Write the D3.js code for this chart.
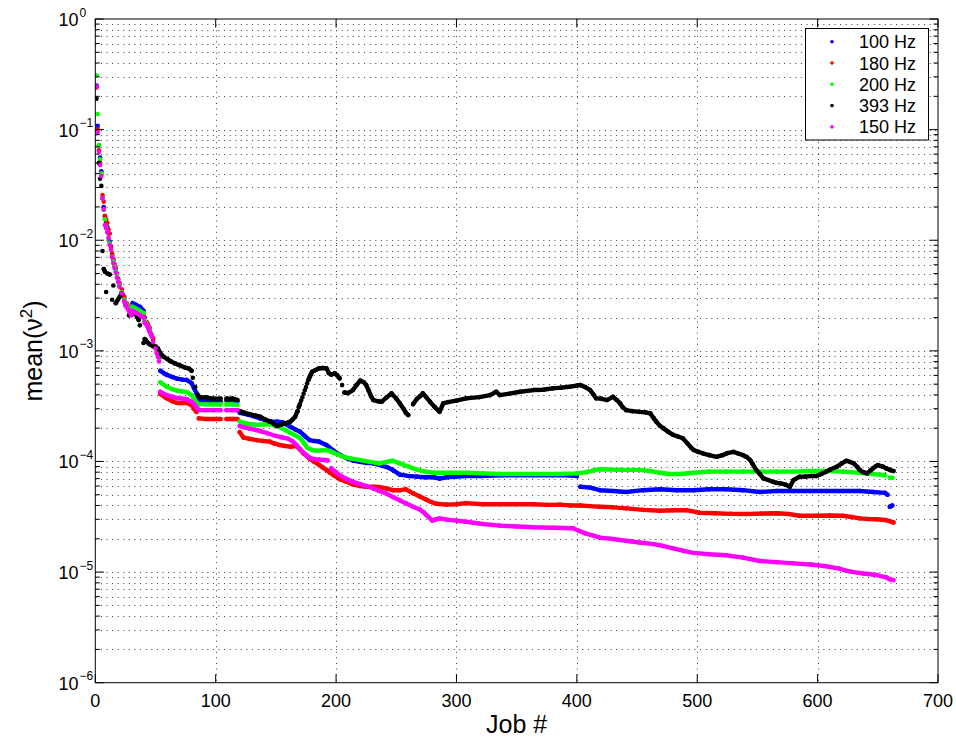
<!DOCTYPE html>
<html>
<head>
<meta charset="utf-8">
<script src="https://cdn.jsdelivr.net/npm/d3@7"></script>
<style>
  html, body { margin: 0; padding: 0; background: #fff; }
  svg { display: block; }
  text { font-family: "Liberation Sans", Arial, Helvetica, sans-serif; fill: #000; }
</style>
</head>
<body>
<svg id="chart" width="956" height="743"></svg>
<script>
// ---- data: [job, mean value]; null marks a break in the record ----
const series100 = [[1,0.25],[2,0.108],[3,0.072],[4,0.056],[5,0.042],[6,0.0242],[7,0.020],[8,0.0165],[9,0.0145],[10,0.0132],[11,0.0115],[12,0.0098],[13,0.0085],[14,0.0073],[15,0.0066],[16,0.0059],[17,0.0054],[18,0.0049],[19,0.0044],[20,0.0040],[22,0.0034],[24,0.0030],[26,0.0026],[28,0.0024],[30,0.0023],[31,0.0027],[34,0.0026],[37,0.0025],[40,0.0023],[41,0.0020],[43,0.00175],[45,0.0016],[47,0.0014],[48,0.00125],[50,0.0011],[51,0.00102],[52,0.00093],[53,0.00085],null,
  [54,6.6e-4],[59,6.1e-4],[64,5.8e-4],[68,5.6e-4],[72,5.5e-4],[76,5.45e-4],[80,5.1e-4],[82,4.6e-4],[84,4.15e-4],[86,3.7e-4],[87,3.55e-4],[92,3.55e-4],[98,3.5e-4],[104,3.5e-4],null,
  [109,3.55e-4],[114,3.55e-4],[118,3.5e-4],[120,2.75e-4],[124,2.7e-4],[128,2.63e-4],[132,2.55e-4],[137,2.45e-4],[142,2.35e-4],[146,2.3e-4],[151,2.29e-4],[156,2.25e-4],[159,2.15e-4],[162,2.06e-4],[166,1.95e-4],[170,1.86e-4],[174,1.7e-4],[178,1.56e-4],[182,1.53e-4],[186,1.51e-4],[192,1.41e-4],[198,1.25e-4],[203,1.15e-4],[209,1.07e-4],[214,1.02e-4],[220,9.9e-5],[225,9.7e-5],[231,9.6e-5],[236,9.3e-5],[242,8.9e-5],[247,8.4e-5],[253,7.6e-5],[260,7.4e-5],[267,7.3e-5],[274,7.2e-5],[281,7.2e-5],[286,7.0e-5],[292,7.2e-5],[300,7.3e-5],[308,7.4e-5],[320,7.4e-5],[336,7.5e-5],[350,7.5e-5],[364,7.5e-5],[380,7.5e-5],[392,7.5e-5],[400,7.4e-5],null,
  [403,5.9e-5],[411,5.8e-5],[419,5.5e-5],[430,5.4e-5],[441,5.3e-5],[455,5.5e-5],[469,5.6e-5],[483,5.5e-5],[497,5.5e-5],[510,5.6e-5],[524,5.6e-5],[538,5.5e-5],[552,5.3e-5],[566,5.4e-5],[580,5.4e-5],[594,5.4e-5],[607,5.4e-5],[621,5.4e-5],[635,5.4e-5],[646,5.3e-5],[656,5.2e-5],[658,5.0e-5],null,
  [660,3.9e-5],[661,3.95e-5],[662,4.0e-5]];

const series180 = [[1,0.24],[2,0.10],[3,0.065],[4,0.05],[5,0.04],[6,0.0256],[7,0.0223],[8,0.0166],[9,0.0155],[10,0.0144],[11,0.0125],[12,0.0115],[13,0.0088],[14,0.0076],[15,0.0068],[16,0.0061],[17,0.0056],[18,0.0050],[19,0.0045],[20,0.0041],[22,0.0036],[24,0.0031],[26,0.0027],[28,0.0025],[30,0.0023],[31,0.0024],[34,0.0023],[37,0.0022],[40,0.0021],[41,0.0019],[43,0.0018],[45,0.0016],[47,0.0014],[48,0.0013],[50,0.0011],[51,0.0010],[52,0.00092],[53,0.00085],null,
  [54,4.07e-4],[59,3.74e-4],[64,3.5e-4],[68,3.38e-4],[72,3.38e-4],[76,3.38e-4],[80,3.23e-4],[82,3.0e-4],[84,2.8e-4],[86,2.45e-4],[92,2.42e-4],[98,2.42e-4],[104,2.42e-4],null,
  [109,2.42e-4],[114,2.42e-4],[118,2.42e-4],[120,1.84e-4],[123,1.65e-4],[128,1.6e-4],[134,1.56e-4],[140,1.53e-4],[145,1.51e-4],[149,1.45e-4],[153,1.41e-4],[158,1.38e-4],[162,1.36e-4],[167,1.38e-4],[170,1.28e-4],[173,1.18e-4],[178,1.06e-4],[182,9.9e-5],[186,9.3e-5],[189,8.8e-5],[192,8.4e-5],[195,7.9e-5],[198,7.5e-5],[203,6.9e-5],[208,6.6e-5],[214,6.2e-5],[220,6.0e-5],[225,5.9e-5],[231,5.9e-5],[236,5.87e-5],[242,5.7e-5],[247,5.5e-5],[253,5.5e-5],[258,5.6e-5],[264,5.15e-5],[270,4.8e-5],[275,4.5e-5],[279,4.3e-5],[283,4.15e-5],[292,4.07e-5],[300,4.1e-5],[308,4.2e-5],[322,4.1e-5],[336,4.1e-5],[350,4.1e-5],[364,4.1e-5],[375,4.05e-5],[386,4.07e-5],[395,4.0e-5],[403,4.0e-5],[411,3.95e-5],[419,3.9e-5],[430,3.85e-5],[441,3.77e-5],[455,3.65e-5],[469,3.58e-5],[480,3.62e-5],[491,3.63e-5],[502,3.44e-5],[515,3.4e-5],[528,3.36e-5],[541,3.35e-5],[553,3.38e-5],[566,3.4e-5],[576,3.35e-5],[585,3.23e-5],[600,3.23e-5],[610,3.25e-5],[621,3.23e-5],[628,3.15e-5],[635,3.06e-5],[642,3.02e-5],[649,3.0e-5],[656,2.96e-5],[663,2.81e-5]];

const series200 = [[1,0.31],[2,0.138],[3,0.072],[4,0.054],[5,0.040],[6,0.024],[7,0.0188],[8,0.0155],[9,0.0132],[10,0.0118],[11,0.0104],[12,0.0094],[13,0.0082],[14,0.0071],[15,0.0064],[16,0.0058],[17,0.0053],[18,0.0048],[19,0.0043],[20,0.0039],[22,0.0034],[24,0.0029],[26,0.0026],[28,0.0024],[30,0.0022],[31,0.0025],[34,0.0024],[37,0.0023],[40,0.0022],[41,0.0019],[43,0.0017],[45,0.00155],[47,0.0014],[48,0.0012],[50,0.00105],[51,0.00098],[52,0.0009],[53,0.00082],null,
  [54,5.2e-4],[59,4.76e-4],[64,4.5e-4],[68,4.37e-4],[72,4.3e-4],[76,4.24e-4],[80,3.98e-4],[82,3.67e-4],[84,3.41e-4],[86,3.3e-4],[92,3.28e-4],[98,3.28e-4],[104,3.28e-4],null,
  [109,3.28e-4],[114,3.28e-4],[118,3.25e-4],[120,2.3e-4],[124,2.22e-4],[128,2.18e-4],[133,2.15e-4],[137,2.15e-4],[141,2.17e-4],[145,2.18e-4],[149,2.12e-4],[153,2.05e-4],[158,1.92e-4],[162,1.81e-4],[166,1.72e-4],[170,1.63e-4],[173,1.48e-4],[176,1.33e-4],[180,1.27e-4],[184,1.25e-4],[188,1.26e-4],[192,1.27e-4],[195,1.24e-4],[198,1.2e-4],[202,1.15e-4],[206,1.1e-4],[213,1.06e-4],[220,1.03e-4],[228,9.9e-5],[236,9.6e-5],[242,9.9e-5],[247,1.015e-4],[253,9.6e-5],[260,9.0e-5],[267,8.45e-5],[274,8.1e-5],[281,7.9e-5],[295,7.9e-5],[308,7.9e-5],[322,7.8e-5],[336,7.7e-5],[350,7.7e-5],[364,7.7e-5],[383,7.7e-5],[400,7.8e-5],[408,8.0e-5],[414,8.3e-5],[419,8.5e-5],[436,8.4e-5],[452,8.4e-5],[461,8.2e-5],[469,7.9e-5],[477,7.7e-5],[486,7.7e-5],[497,7.9e-5],[510,8.1e-5],[524,8.1e-5],[538,8.1e-5],[552,8.1e-5],[566,8.1e-5],[580,8.1e-5],[594,8.2e-5],[607,8.2e-5],[621,8.1e-5],[635,7.9e-5],[646,7.7e-5],[656,7.5e-5],null,
  [660,7.1e-5],[662,7.1e-5]];

const series393 = [[1,0.19],[3,0.050],[4,0.036],[5,0.031],[6,0.008],[7,0.0055],[8,0.0052],[9,0.0034],[10,0.005],[12,0.0049],[14,0.0029],[15,0.0039],[17,0.0027],[22,0.0033],[25,0.0026],[28,0.0021],[33,0.0022],[36,0.0019],[37,0.0017],[40,0.00118],[41,0.00128],[42,0.00125],[43,0.0012],[45,0.00115],[48,0.0011],[50,0.00108],[52,0.00105],[54,0.00095],[57,0.00088],[60,0.00084],[63,0.0008],[66,0.00077],[70,0.00074],[74,0.00071],[78,0.00069],[80,0.00066],[81,0.00057],[83,0.00047],[85,0.0004],[87,3.8e-4],[92,3.8e-4],[98,3.7e-4],[104,3.7e-4],null,
  [109,3.7e-4],[114,3.7e-4],[118,3.6e-4],[120,2.86e-4],[124,2.75e-4],[128,2.68e-4],[133,2.6e-4],[137,2.54e-4],[141,2.4e-4],[145,2.29e-4],[148,2.2e-4],[151,2.09e-4],[154,2.15e-4],[157,2.2e-4],[160,2.25e-4],[162,2.29e-4],[164,2.4e-4],[166,2.54e-4],[168,2.85e-4],[169,3.1e-4],[170,3.3e-4],[171,3.55e-4],[172,3.8e-4],[173,4.1e-4],[174,4.4e-4],[175,4.7e-4],[176,5.1e-4],[177,5.45e-4],[178,5.8e-4],[179,6.1e-4],[180,6.47e-4],[183,6.7e-4],[186,6.95e-4],[189,7.0e-4],[192,6.95e-4],[194,6.3e-4],[196,6.1e-4],[199,6.26e-4],[201,6.0e-4],[203,5.64e-4],[205,4.9e-4],[207,4.2e-4],[210,4.15e-4],[214,4.42e-4],[217,4.9e-4],[220,5.39e-4],[223,5.2e-4],[225,4.91e-4],[227,4.4e-4],[229,3.9e-4],[231,3.59e-4],[235,3.5e-4],[238,3.47e-4],[242,3.8e-4],[246,4.13e-4],[250,3.7e-4],[253,3.35e-4],[256,3.0e-4],[258,2.75e-4],[260,2.63e-4],null,
  [264,3.3e-4],[267,3.67e-4],[270,3.9e-4],[272,4.13e-4],[275,3.8e-4],[278,3.47e-4],[282,3.1e-4],[286,2.81e-4],[289,3.35e-4],[293,3.44e-4],[300,3.55e-4],[308,3.72e-4],[319,3.82e-4],[328,3.98e-4],[333,4.27e-4],[336,3.98e-4],[344,4.1e-4],[353,4.27e-4],[364,4.42e-4],[372,4.45e-4],[380,4.58e-4],[387,4.65e-4],[394,4.74e-4],[400,4.85e-4],[403,4.91e-4],[407,4.7e-4],[411,4.42e-4],[414,4.0e-4],[416,3.72e-4],[420,3.7e-4],[425,3.59e-4],[430,3.84e-4],[433,3.6e-4],[436,3.35e-4],[438,3.1e-4],[441,2.91e-4],[446,2.85e-4],[452,2.81e-4],[457,2.78e-4],[461,2.72e-4],[464,2.45e-4],[466,2.29e-4],[469,2.1e-4],[472,1.99e-4],[476,1.85e-4],[480,1.74e-4],[484,1.68e-4],[488,1.62e-4],[492,1.45e-4],[495,1.33e-4],[497,1.27e-4],[501,1.22e-4],[505,1.18e-4],[510,1.14e-4],[516,1.1e-4],[521,1.14e-4],[525,1.19e-4],[530,1.22e-4],[534,1.18e-4],[538,1.14e-4],[541,1.1e-4],[544,1.03e-4],[546,9.5e-5],[549,8.36e-5],[552,7.7e-5],[555,7.03e-5],[559,6.8e-5],[563,6.55e-5],[566,6.4e-5],[569,6.34e-5],[573,6.2e-5],[577,5.9e-5],[580,6.79e-5],[585,7.27e-5],[590,7.3e-5],[595,7.4e-5],[599,7.38e-5],[603,7.7e-5],[607,8.07e-5],[611,8.5e-5],[616,8.96e-5],[620,9.6e-5],[624,1.015e-4],[627,9.9e-5],[630,9.61e-5],[633,8.9e-5],[635,8.36e-5],[638,8.0e-5],[641,7.8e-5],[644,8.3e-5],[646,8.66e-5],[648,9.0e-5],[650,9.28e-5],[654,9.0e-5],[657,8.66e-5],[660,8.4e-5],[663,8.19e-5]];

const series150 = [[1,0.245],[2,0.095],[3,0.063],[4,0.048],[5,0.038],[6,0.0239],[7,0.019],[8,0.0137],[9,0.0128],[10,0.0118],[11,0.0105],[12,0.0091],[13,0.0082],[14,0.007],[15,0.0062],[16,0.0056],[17,0.0051],[18,0.0046],[19,0.0042],[20,0.0038],[22,0.0033],[24,0.0028],[26,0.0025],[28,0.0023],[30,0.0021],[31,0.0023],[34,0.0022],[37,0.0021],[40,0.0020],[41,0.0018],[43,0.0017],[45,0.0015],[47,0.00135],[48,0.0012],[50,0.00105],[51,0.00095],[52,0.00088],[53,0.0008],null,
  [54,4.27e-4],[59,3.98e-4],[64,3.85e-4],[68,3.74e-4],[72,3.7e-4],[76,3.67e-4],[80,3.45e-4],[82,3.3e-4],[84,3.1e-4],[86,2.92e-4],[92,2.91e-4],[98,2.91e-4],[104,2.91e-4],null,
  [109,2.91e-4],[114,2.91e-4],[118,2.9e-4],[120,2.09e-4],[124,2.03e-4],[128,1.98e-4],[133,1.93e-4],[137,1.88e-4],[143,1.8e-4],[150,1.7e-4],[155,1.65e-4],[160,1.61e-4],[164,1.52e-4],[167,1.41e-4],[170,1.3e-4],[172,1.23e-4],[175,1.15e-4],[178,1.08e-4],[182,1.05e-4],[186,1.04e-4],[190,1.03e-4],[193,1.02e-4],null,
  [196,8.66e-5],[200,8.0e-5],[203,7.53e-5],[208,7.0e-5],[214,6.55e-5],[220,6.25e-5],[225,6.0e-5],[231,5.7e-5],[236,5.4e-5],[242,5.1e-5],[248,4.72e-5],[253,4.45e-5],[258,4.18e-5],[264,3.9e-5],[269,3.71e-5],[273,3.45e-5],[276,3.21e-5],[280,2.92e-5],[283,3.0e-5],[286,3.06e-5],[292,2.98e-5],[300,2.92e-5],[308,2.85e-5],[322,2.72e-5],[336,2.63e-5],[350,2.58e-5],[364,2.54e-5],[380,2.52e-5],[397,2.49e-5],[402,2.35e-5],[407,2.24e-5],[413,2.15e-5],[419,2.05e-5],[428,2.0e-5],[436,1.95e-5],[444,1.9e-5],[452,1.85e-5],[464,1.79e-5],[472,1.72e-5],[480,1.64e-5],[488,1.56e-5],[497,1.49e-5],[510,1.45e-5],[524,1.42e-5],[538,1.35e-5],[552,1.26e-5],[566,1.23e-5],[580,1.2e-5],[594,1.17e-5],[607,1.13e-5],[617,1.08e-5],[627,1.01e-5],[638,9.7e-6],[649,9.4e-6],[657,8.96e-6],[660,8.6e-6],[663,8.46e-6]];

const seriesNames  = ["100 Hz", "180 Hz", "200 Hz", "393 Hz", "150 Hz"];
const seriesData   = [series100, series180, series200, series393, series150];
const seriesColors = ["#0000ff", "#ff0000", "#00ff00", "#000000", "#ff00ff"];

const xTicks = [0, 100, 200, 300, 400, 500, 600, 700];
const yDecades = [0, -1, -2, -3, -4, -5, -6];

// ---- layout ----
const svg = d3.select("#chart");
const plotLeft = 95.3, plotRight = 938, plotTop = 19, plotBottom = 682.7;

const x = d3.scaleLinear().domain([0, 700]).range([plotLeft, plotRight]);
const y = d3.scaleLog().domain([1e-6, 1]).range([plotBottom, plotTop]);

svg.append("rect").attr("x", 0).attr("y", 0).attr("width", 956).attr("height", 743).attr("fill", "#fff");

// grid: dotted lines at every log minor step and every major x tick
const grid = svg.append("g").attr("stroke", "#000").attr("stroke-width", 1)
  .attr("stroke-dasharray", "1,4.6").attr("opacity", 0.75);
const yGridVals = [];
for (let e = -6; e < 0; e++) for (let m = 1; m <= 9; m++) yGridVals.push(m * Math.pow(10, e));
grid.selectAll("line.hy").data(yGridVals.filter((v, i) => i > 0)).join("line")
  .attr("x1", plotLeft).attr("x2", plotRight)
  .attr("y1", d => Math.round(y(d)) + 0.5).attr("y2", d => Math.round(y(d)) + 0.5);
grid.selectAll("line.vx").data(xTicks.slice(1, -1)).join("line")
  .attr("y1", plotTop).attr("y2", plotBottom)
  .attr("x1", d => Math.round(x(d)) + 0.5).attr("x2", d => Math.round(x(d)) + 0.5);

// data marks
svg.append("clipPath").attr("id", "plotclip").append("rect")
  .attr("x", plotLeft).attr("y", plotTop).attr("width", plotRight - plotLeft).attr("height", plotBottom - plotTop);
const plot = svg.append("g").attr("clip-path", "url(#plotclip)");

// split a series into runs of neighbouring samples that sit close together
function runs(points) {
  const out = [];
  let cur = [], prev = null;
  points.forEach(p => {
    if (!p) { if (cur.length) out.push(cur); cur = []; prev = null; return; }
    if (prev) {
      const dx = x(p[0]) - x(prev[0]);
      const dy = Math.abs(y(p[1]) - y(prev[1]));
      if (dy > Math.max(2, 2.5 * dx) || dy > 12 || p[0] - prev[0] > 40) { out.push(cur); cur = []; }
    }
    cur.push(p); prev = p;
  });
  if (cur.length) out.push(cur);
  return out;
}

const line = d3.line().x(d => x(d[0])).y(d => y(d[1]));
seriesData.forEach((data, i) => {
  const g = plot.append("g").attr("class", "series");
  const color = seriesColors[i];
  g.selectAll("path").data(runs(data).filter(r => r.length > 1)).join("path")
    .attr("d", line).attr("fill", "none").attr("stroke", color)
    .attr("stroke-width", 4.4).attr("stroke-linejoin", "round").attr("stroke-linecap", "round");
  g.selectAll("circle").data(data.filter(d => d)).join("circle")
    .attr("cx", d => x(d[0])).attr("cy", d => y(d[1])).attr("r", 2.3).attr("fill", color);
});

// axes box and inward ticks
const axes = svg.append("g").attr("stroke", "#000").attr("stroke-width", 1).attr("fill", "none");
axes.append("rect").attr("x", plotLeft).attr("y", plotTop).attr("width", plotRight - plotLeft).attr("height", plotBottom - plotTop);
const majorLen = 8.5, minorLen = 4.5;
xTicks.forEach(t => {
  const xp = x(t);
  axes.append("line").attr("x1", xp).attr("x2", xp).attr("y1", plotBottom).attr("y2", plotBottom - majorLen);
  axes.append("line").attr("x1", xp).attr("x2", xp).attr("y1", plotTop).attr("y2", plotTop + majorLen);
});
yGridVals.concat([1]).forEach(v => {
  const major = Math.abs(Math.log10(v) - Math.round(Math.log10(v))) < 1e-9;
  const len = major ? majorLen : minorLen;
  const yp = y(v);
  axes.append("line").attr("x1", plotLeft).attr("x2", plotLeft + len).attr("y1", yp).attr("y2", yp);
  axes.append("line").attr("x1", plotRight).attr("x2", plotRight - len).attr("y1", yp).attr("y2", yp);
});

// tick labels
svg.append("g").selectAll("text").data(xTicks).join("text")
  .attr("x", d => x(d)).attr("y", plotBottom + 24).attr("text-anchor", "middle")
  .attr("font-size", 18).text(d => d);

const yLab = svg.append("g");
yDecades.forEach(e => {
  const yp = y(Math.pow(10, e));
  yLab.append("text").attr("x", 78.5).attr("y", yp + 7).attr("text-anchor", "end")
    .attr("font-size", 18).text("10");
  yLab.append("text").attr("x", 79.5).attr("y", yp - 2.5).attr("text-anchor", "start")
    .attr("font-size", 12).text(e === 0 ? "0" : "\u2212" + (-e));
});

// axis titles
svg.append("text").attr("x", (plotLeft + plotRight) / 2).attr("y", 733).attr("text-anchor", "middle")
  .attr("font-size", 25).text("Job #");
const yt = svg.append("text").attr("transform", "translate(42,351) rotate(-90)")
  .attr("text-anchor", "middle").attr("font-size", 25);
yt.append("tspan").text("mean(\u03bd");
yt.append("tspan").attr("font-size", 17).attr("dy", -10).text("2");
yt.append("tspan").attr("dy", 10).text(")");

// legend
const lg = svg.append("g");
lg.append("rect").attr("x", 805.5).attr("y", 28.5).attr("width", 123).attr("height", 111.5)
  .attr("fill", "#fff").attr("stroke", "#000").attr("stroke-width", 1);
seriesNames.forEach((name, i) => {
  const cy = 41.7 + i * 21.3;
  lg.append("circle").attr("cx", 832).attr("cy", cy).attr("r", 1.8).attr("fill", seriesColors[i]);
  lg.append("text").attr("x", 859).attr("y", cy + 6.5).attr("font-size", 18).text(name);
});
</script>
</body>
</html>
